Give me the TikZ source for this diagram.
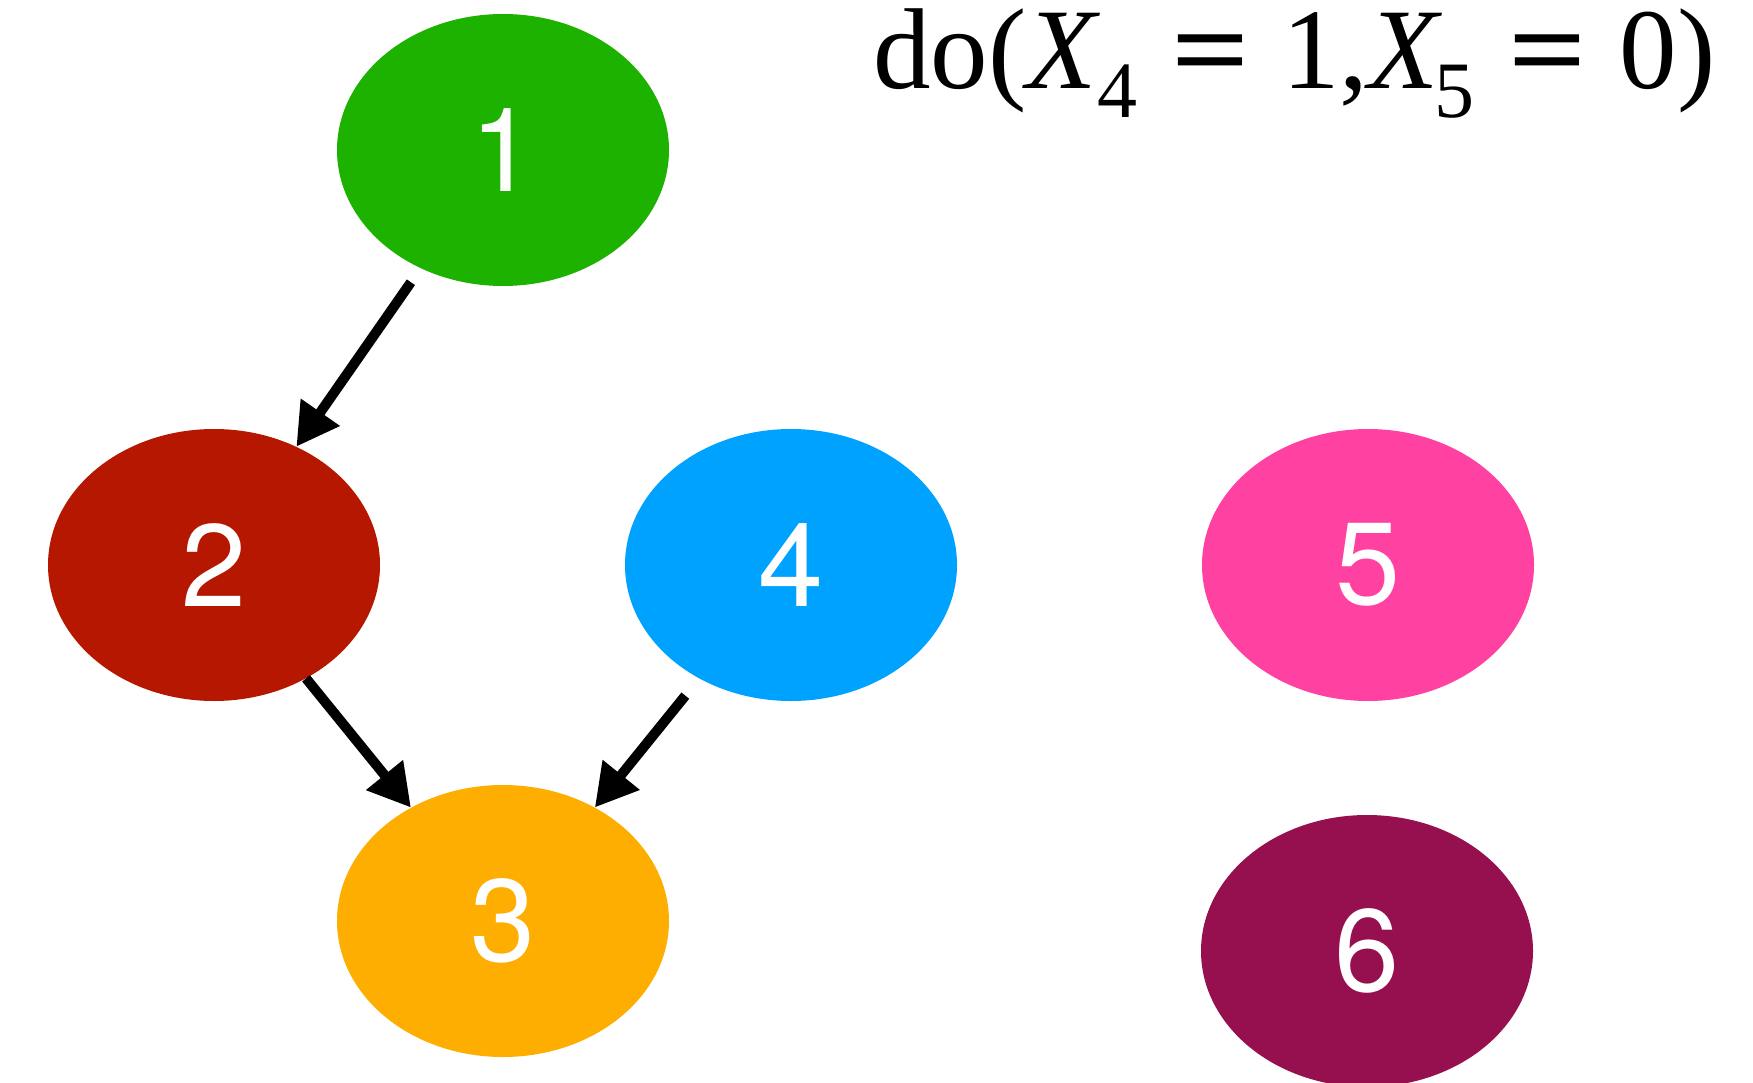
\documentclass[tikz,border=0pt]{standalone}
\usepackage{fontspec}
\usepackage{graphicx}
\setmainfont{Liberation Serif}
\newfontfamily\digitfont{TeX Gyre Heros}
\usetikzlibrary{shapes.geometric,arrows.meta}
\definecolor{cgreen}{HTML}{1DB100}
\definecolor{cred}{HTML}{B51700}
\definecolor{cblue}{HTML}{00A2FF}
\definecolor{cpink}{HTML}{FF42A1}
\definecolor{corange}{HTML}{FEAE00}
\definecolor{cplum}{HTML}{961050}
\newcommand{\eqsign}{\hspace{0.3em}\scalebox{1.2}[1]{\textbf{=}}\hspace{0.28em}}
\newcommand{\subsc}[1]{\raisebox{-0.25em}{\fontsize{80}{80}\selectfont #1}}
\tikzset{
  vnode/.style={ellipse, draw=none, inner sep=0pt, minimum width=332pt, minimum height=272pt,
    text=white, font=\digitfont\fontsize{117}{117}\selectfont},
  arr/.style={line width=10pt, -{Triangle[length=42pt,width=45pt]}}
}
\begin{document}
\begin{tikzpicture}[x=1pt,y=-1pt]
\useasboundingbox (0,0) rectangle (1753,1083);
\node[vnode, fill=cgreen] (n1) at (503,150) {1};
\node[vnode, fill=cred] (n2) at (214,565) {2};
\node[vnode, fill=cblue] (n4) at (791,565) {4};
\node[vnode, fill=cpink] (n5) at (1368,565) {5};
\node[vnode, fill=corange] (n3) at (503,921) {3};
\node[vnode, fill=cplum] (n6) at (1367,951) {6};
\draw[arr, shorten <=17pt] (n1) -- (n2);
\draw[arr] (n2) -- (n3);
\draw[arr, shorten <=22pt] (n4) -- (n3);
\node[anchor=base west, inner sep=0pt, font=\fontsize{115}{115}\selectfont] (lbl) at (873,89)
  {do(\textit{X}\kern-0.03em\subsc{4}\eqsign 1,\textit{X}\kern-0.07em\subsc{5}\eqsign 0)};
\end{tikzpicture}
\end{document}
